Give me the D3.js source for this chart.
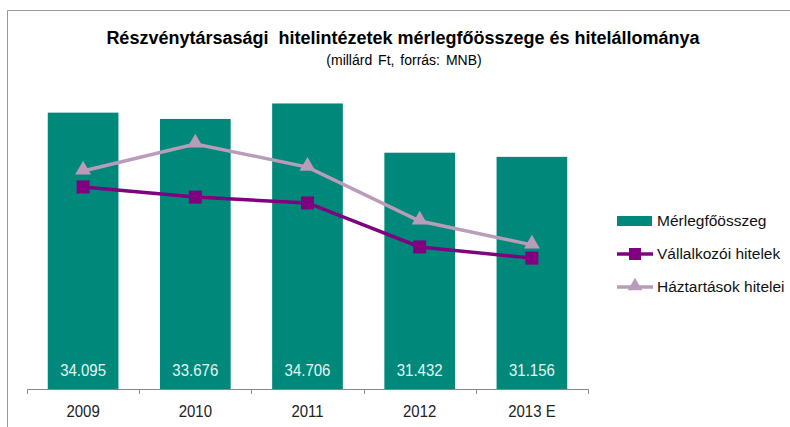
<!DOCTYPE html>
<html>
<head>
<meta charset="utf-8">
<script src="https://cdn.jsdelivr.net/npm/d3@7"></script>
<style>
body { margin: 0; background: #fff; }
svg { display: block; font-family: "Liberation Sans", Arial, sans-serif; }
</style>
</head>
<body>
<div id="chart"></div>
<script>
var years = ["2009", "2010", "2011", "2012", "2013 E"];
var merleg = [34095, 33676, 34706, 31432, 31156];
var vallalkozoi = [7950, 7550, 7320, 5590, 5150];
var haztartasok = [8580, 9640, 8730, 6610, 5670];
var seriesNames = ["Mérlegfőösszeg", "Vállalkozói hitelek", "Háztartások hitelei"];

var width = 790, height = 427;
var teal = "#00897b", purple = "#800080", lilac = "#b89cba";

var svg = d3.select("#chart").append("svg")
	.attr("width", width)
	.attr("height", height);

// frame
svg.append("path")
	.attr("d", "M7.5," + height + "V10.5H" + width)
	.attr("fill", "none")
	.attr("stroke", "#999")
	.attr("stroke-width", 1);

svg.append("text")
	.attr("x", 403).attr("y", 44)
	.attr("text-anchor", "middle")
	.attr("font-size", 18).attr("font-weight", "bold")
	.style("white-space", "pre")
	.text("Részvénytársasági  hitelintézetek mérlegfőösszege és hitelállománya");

svg.append("text")
	.attr("x", 404).attr("y", 65)
	.attr("text-anchor", "middle")
	.attr("font-size", 14)
	.attr("word-spacing", 2)
	.text("(millárd Ft, forrás: MNB)");

var x = d3.scaleBand().domain(years).range([27, 588]).paddingInner(0.37).paddingOuter(0.185);
var y = d3.scaleLinear().domain([15720, 36000]).range([389, 84]);
var y2 = d3.scaleLinear().domain([0, 12000]).range([389, 84]);

svg.append("g").selectAll("rect")
	.data(merleg)
	.enter().append("rect")
	.attr("x", (d, i) => x(years[i]))
	.attr("width", x.bandwidth())
	.attr("y", d => y(d))
	.attr("height", d => 389 - y(d))
	.attr("fill", teal);

svg.append("g").selectAll("text")
	.data(merleg)
	.enter().append("text")
	.attr("x", (d, i) => x(years[i]) + x.bandwidth() / 2)
	.attr("y", 376)
	.attr("text-anchor", "middle")
	.attr("font-size", 15)
	.attr("fill", "#e4f6f2")
	.attr("transform", (d, i) => { var cx = x(years[i]) + x.bandwidth() / 2; return "translate(" + cx + ",376) scale(1,1.15) translate(" + (-cx) + ",-376)"; })
	.text(d => d3.format(",")(d).replace(",", "."));

// x axis
var xAxis = svg.append("g")
	.attr("transform", "translate(0,389)")
	.call(d3.axisBottom(x).tickSize(0).tickPadding(0));
xAxis.select(".domain").remove();
xAxis.append("path")
	.attr("d", "M27.5,5V0.5H588.5V5")
	.attr("fill", "none").attr("stroke", "#888");
xAxis.selectAll(".sep")
	.data(years.slice(1))
	.enter().append("line")
	.attr("x1", d => Math.round(x(d) - x.step() * x.paddingInner() / 2) + 0.5)
	.attr("x2", d => Math.round(x(d) - x.step() * x.paddingInner() / 2) + 0.5)
	.attr("y1", 0).attr("y2", 5)
	.attr("stroke", "#888");
xAxis.selectAll(".tick text")
	.attr("y", 25)
	.attr("dy", 0)
	.attr("font-size", 15)
	.attr("fill", "#222")
	.attr("font-family", "Liberation Sans, Arial, sans-serif")
	.attr("transform", "scale(1,1.12)");

// lines
var cx = (d, i) => x(years[i]) + x.bandwidth() / 2;
var line = d3.line().x(cx).y(d => y2(d));

svg.append("path").datum(haztartasok)
	.attr("d", line).attr("fill", "none")
	.attr("stroke", lilac).attr("stroke-width", 3.5);
svg.append("path").datum(vallalkozoi)
	.attr("d", line).attr("fill", "none")
	.attr("stroke", purple).attr("stroke-width", 3.5);

var tri = d3.symbol().type(d3.symbolTriangle).size(110);
svg.append("g").selectAll("path")
	.data(haztartasok)
	.enter().append("path")
	.attr("d", tri)
	.attr("transform", (d, i) => "translate(" + cx(d, i) + "," + (y2(d) - 1) + ")")
	.attr("fill", lilac);

svg.append("g").selectAll("rect")
	.data(vallalkozoi)
	.enter().append("rect")
	.attr("x", (d, i) => cx(d, i) - 6.5)
	.attr("y", d => y2(d) - 6.5)
	.attr("width", 13).attr("height", 13)
	.attr("fill", purple);

// legend
var legend = svg.append("g").attr("transform", "translate(617,0)");
var ly = [221, 254, 287];
legend.append("rect")
	.attr("x", 0).attr("y", ly[0] - 5).attr("width", 35).attr("height", 10)
	.attr("fill", teal);
legend.append("line")
	.attr("x1", 0).attr("x2", 36).attr("y1", ly[1]).attr("y2", ly[1])
	.attr("stroke", purple).attr("stroke-width", 3.5);
legend.append("rect")
	.attr("x", 12).attr("y", ly[1] - 6).attr("width", 12).attr("height", 12)
	.attr("fill", purple);
legend.append("line")
	.attr("x1", 0).attr("x2", 36).attr("y1", ly[2]).attr("y2", ly[2])
	.attr("stroke", lilac).attr("stroke-width", 3.5);
legend.append("path")
	.attr("d", d3.symbol().type(d3.symbolTriangle).size(90))
	.attr("transform", "translate(18," + (ly[2] - 1) + ")")
	.attr("fill", lilac);
legend.selectAll("text.lab")
	.data(seriesNames)
	.enter().append("text")
	.attr("class", "lab")
	.attr("x", 40)
	.attr("y", (d, i) => ly[i] + 5)
	.attr("font-size", 15.5)
	.attr("fill", "#111")
	.text(d => d);
</script>
</body>
</html>
